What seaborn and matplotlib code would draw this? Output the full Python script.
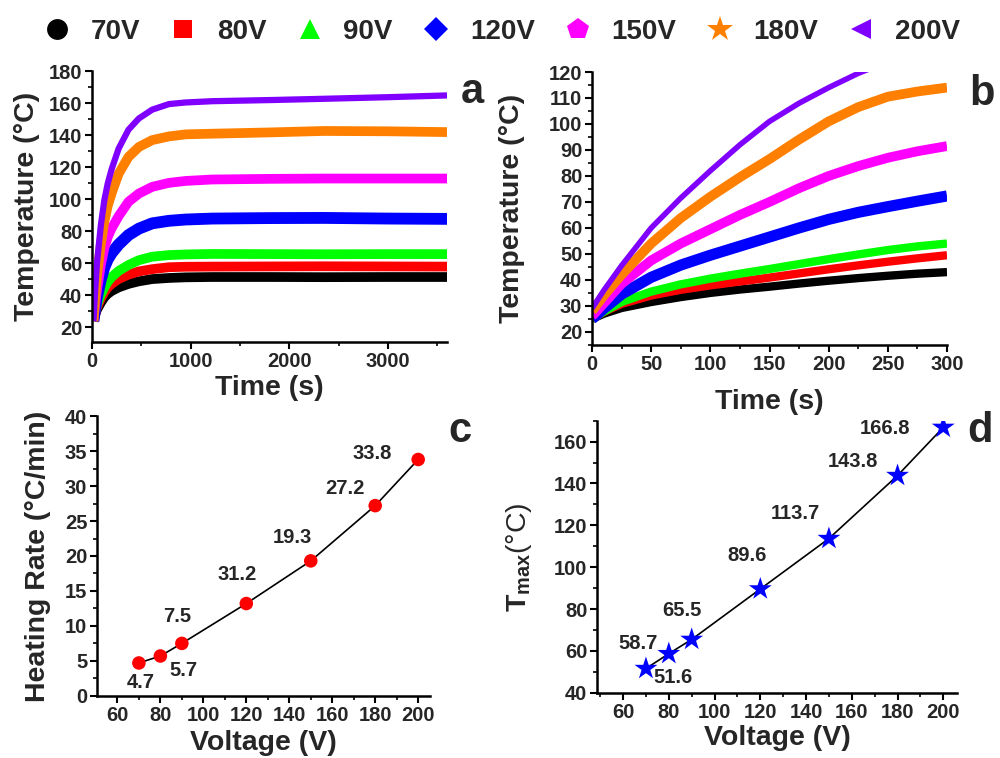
import matplotlib
matplotlib.use("Agg")
import matplotlib.pyplot as plt
import seaborn as sns
import pandas as pd
from matplotlib.lines import Line2D
from matplotlib.ticker import MultipleLocator

# series names / colours / markers
volt_labels = ["70V", "80V", "90V", "120V", "150V", "180V", "200V"]
colors = ["#000000", "#FF0000", "#00FF00", "#0000FF", "#FF00FF", "#FF8000", "#8000FF"]
markers = ["o", "s", "^", "D", "p", "*", "<"]

# panel a: full heating curves
t_a = [15, 30, 50, 90, 125, 160, 200, 270, 370, 475, 610, 780, 950, 1220, 1800, 2350, 3000, 3600]
a_curves = {
    "70V":  [24, 27.5, 31, 35.5, 38.8, 41, 42.8, 45, 47.2, 48.8, 50.2, 50.9, 51.3, 51.5, 51.5, 51.4, 51.5, 51.5],
    "80V":  [24, 28, 32.5, 38, 42, 45, 47.3, 50.3, 53, 55, 56.4, 57.6, 57.9, 58, 58.1, 58.2, 58.1, 58],
    "90V":  [24, 29, 34, 40.5, 45, 48.5, 51.5, 55.3, 59, 62, 64.2, 65.2, 65.6, 65.9, 65.8, 65.7, 65.8, 65.8],
    "120V": [24, 31, 39, 50, 57.5, 62.5, 66.5, 71.8, 77.7, 81.7, 85, 86.6, 87.4, 88, 88.3, 88.4, 88, 87.8],
    "150V": [24, 33, 43, 59, 69.5, 76.5, 82, 89.5, 98.5, 103.6, 107.8, 110.3, 111.5, 112.4, 112.8, 113, 113, 113],
    "180V": [24, 37, 52, 72, 86, 96, 104, 116, 126.5, 132.7, 137, 139.3, 140.6, 141, 141.8, 142.7, 142.5, 142],
    "200V": [24, 41, 60, 84, 99.5, 110, 119, 131.7, 143.5, 150.5, 156, 159.5, 160.5, 161.3, 162, 162.8, 163.8, 164.9],
}

# panel b: first 300 s
t_b = [0, 10, 25, 50, 75, 100, 125, 150, 175, 200, 225, 250, 275, 300]
b_curves = {
    "70V":  [25, 27, 29.2, 31.5, 33.4, 35, 36.3, 37.4, 38.6, 39.7, 40.7, 41.6, 42.4, 43],
    "80V":  [25, 27.7, 30.8, 34, 36.2, 37.9, 39.4, 40.9, 42.5, 44.1, 45.6, 47, 48.3, 49.5],
    "90V":  [25, 27.8, 31.5, 35.5, 38.3, 40.5, 42.4, 44.2, 46.1, 48, 49.8, 51.5, 52.9, 54],
    "120V": [25, 29, 34.5, 41, 45.7, 49.5, 53, 56.5, 60, 63.3, 66, 68.2, 70.3, 72.3],
    "150V": [26, 31, 38.5, 47.5, 54, 59.5, 65, 70, 75.3, 80, 83.8, 87, 89.5, 91.5],
    "180V": [28, 34, 42, 54, 63.8, 72, 79.5, 86.5, 94, 101, 106.5, 110.5, 112.5, 114],
    "200V": [29, 36, 45.5, 60, 71.5, 82, 92, 101, 108, 114, 119.5, 124, 128, 131],
}

# panels c, d
voltage = [70, 80, 90, 120, 150, 180, 200]
heating_rate = [4.7, 5.7, 7.5, 13.2, 19.3, 27.2, 33.8]
rate_text = ["4.7", "5.7", "7.5", "31.2", "19.3", "27.2", "33.8"]
t_max = [51.6, 58.7, 65.5, 89.6, 113.7, 143.8, 166.8]
tmax_text = ["51.6", "58.7", "65.5", "89.6", "113.7", "143.8", "166.8"]

# line widths of the noisy bands
lw_a = [7, 7, 7, 8.5, 7, 7, 4.5]
lw_b = [6, 6, 6, 8, 7, 7, 4]

sns.set_theme(style="ticks")
plt.rcParams["font.family"] = ["Liberation Sans", "DejaVu Sans"]
plt.rcParams["font.weight"] = "bold"
plt.rcParams["axes.labelweight"] = "bold"
plt.rcParams["mathtext.fontset"] = "custom"
plt.rcParams["mathtext.rm"] = "Liberation Sans"
plt.rcParams["mathtext.bf"] = "Liberation Sans:bold"

fig = plt.figure(figsize=(10, 7.58), dpi=100)
ax_a = fig.add_axes([0.092, 0.549, 0.355, 0.357])
ax_b = fig.add_axes([0.592, 0.545, 0.355, 0.360])
ax_c = fig.add_axes([0.097, 0.082, 0.333, 0.369])
ax_d = fig.add_axes([0.597, 0.086, 0.360, 0.359])


def style_axes(ax, xmaj, xmin, ymaj, ymin):
    sns.despine(ax=ax)
    for s in ["left", "bottom"]:
        ax.spines[s].set_linewidth(1.8)
        ax.spines[s].set_color("black")
    ax.xaxis.set_major_locator(MultipleLocator(xmaj))
    ax.xaxis.set_minor_locator(MultipleLocator(xmin))
    ax.yaxis.set_major_locator(MultipleLocator(ymaj))
    ax.yaxis.set_minor_locator(MultipleLocator(ymin))
    ax.tick_params(which="major", direction="out", length=5, width=1.5,
                   labelsize=14.5, color="black", pad=2)
    ax.tick_params(which="minor", direction="out", length=3, width=1.2, color="black")


for i, lab in enumerate(volt_labels):
    sns.lineplot(x=t_a, y=a_curves[lab], ax=ax_a, color=colors[i], lw=lw_a[i],
                 solid_capstyle="butt", solid_joinstyle="round")
    sns.lineplot(x=t_b, y=b_curves[lab], ax=ax_b, color=colors[i], lw=lw_b[i],
                 solid_capstyle="butt", solid_joinstyle="round")

ax_a.set_xlim(0, 3600)
ax_a.set_ylim(11, 180)
style_axes(ax_a, 1000, 500, 20, 10)
ax_b.set_xlim(0, 300)
ax_b.set_ylim(15, 120)
style_axes(ax_b, 50, 25, 10, 5)

# panel c
sns.lineplot(x=voltage, y=heating_rate, ax=ax_c, color="black", lw=1.2)
sns.scatterplot(x=voltage, y=heating_rate, ax=ax_c, color="#FF0000", s=95,
                marker="o", edgecolor="none", zorder=3)
ax_c.set_xlim(50.5, 205.5)
ax_c.set_ylim(0, 40)
style_axes(ax_c, 20, 10, 5, 2.5)
c_pos = [(70.7, 1.9), (90.7, 3.6), (87.9, 11.3), (115.8, 17.3),
         (141.4, 22.7), (166, 29.7), (178.6, 34.7)]
for txt, (x, y) in zip(rate_text, c_pos):
    ax_c.text(x, y, txt, fontsize=14.5, ha="center", va="center")

# panel d
sns.lineplot(x=voltage, y=t_max, ax=ax_d, color="black", lw=1.2)
sns.scatterplot(x=voltage, y=t_max, ax=ax_d, color="#0000FF", s=300,
                marker="*", edgecolor="none", zorder=3)
ax_d.set_xlim(48.6, 206)
ax_d.set_ylim(40, 170)
style_axes(ax_d, 20, 10, 20, 10)
d_pos = [(81.9, 47.2), (66.6, 63.4), (85.8, 79.2), (114.2, 105.5),
         (135.2, 125.6), (160.6, 150.4), (174.6, 166.2)]
for txt, (x, y) in zip(tmax_text, d_pos):
    ax_d.text(x, y, txt, fontsize=14.5, ha="center", va="center")

# axis labels
labels = [
    (ax_a, "Time (s)", "Temperature (°C)", -0.170, -0.183),
    (ax_b, "Time (s)", "Temperature (°C)", -0.209, -0.225),
    (ax_c, "Voltage (V)", "Heating Rate (°C/min)", -0.168, -0.177),
    (ax_d, "Voltage (V)", r"$\mathbf{T}_{\mathbf{max}}$(°C)", -0.165, -0.217),
]
for ax, xl, yl, xy, yx in labels:
    ax.set_xlabel(xl, fontsize=20.5, va="center")
    ax.xaxis.set_label_coords(0.5, xy)
    if ax is ax_d:
        ax.set_ylabel(yl, fontsize=20.5, fontweight="normal", va="center")
    else:
        ax.set_ylabel(yl, fontsize=20.5, va="center")
    ax.yaxis.set_label_coords(yx, 0.5)

# panel letters
for txt, x, y in [("a", 0.472, 0.864), ("b", 0.982, 0.861),
                  ("c", 0.460, 0.417), ("d", 0.980, 0.417)]:
    fig.text(x, y, txt, fontsize=30, ha="center", va="baseline")

# legend across the top
ms = [15, 13, 15, 12, 16, 19, 15]
handles = [Line2D([], [], ls="none", marker=markers[i], color=colors[i],
                  markersize=ms[i], markeredgewidth=0) for i in range(len(volt_labels))]
fig.legend(handles, volt_labels, loc="center", bbox_to_anchor=(0.5015, 0.958),
           ncol=7, frameon=False, fontsize=20, handlelength=1.0,
           handletextpad=0.72, columnspacing=1.05)

fig.savefig("out.png", dpi=100)
